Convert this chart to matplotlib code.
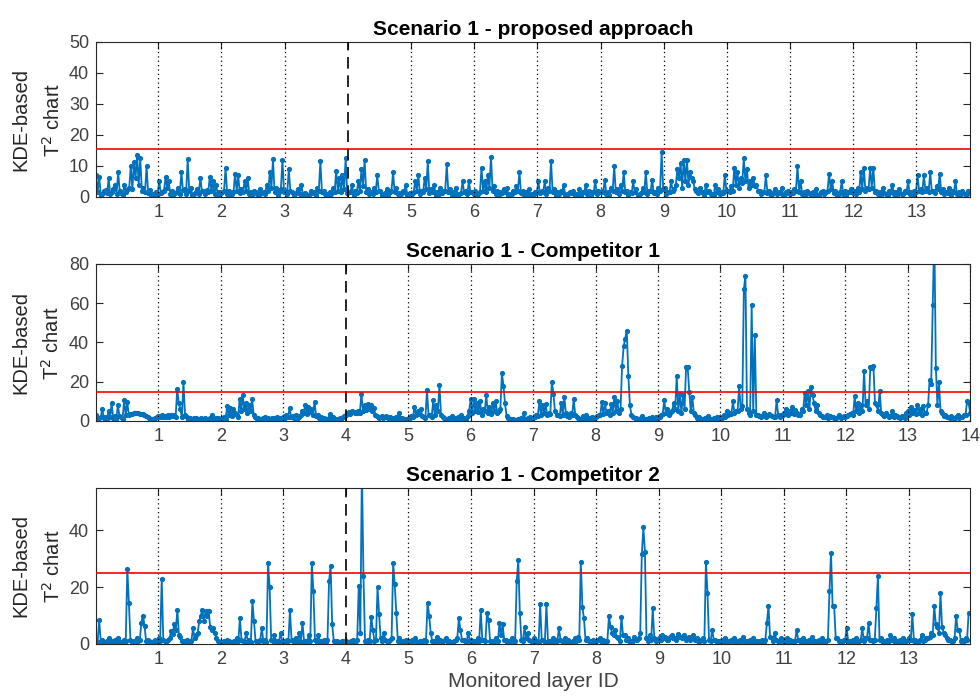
import matplotlib.pyplot as plt
import numpy as np

plt.rcParams["font.family"] = ["Liberation Sans", "DejaVu Sans"]

step = 0.05  # spacing between the main samples along the layer axis

# KDE-based T^2 statistic, proposed approach: samples on the main grid (one row per layer)
prop_t2 = [
    7.2, 6.5, 1.0, 2.1, 6.0, 1.5, 3.8, 8.0, 1.2, 4.0, 2.5, 10.0, 11.2, 13.5, 12.5, 3.0, 10.0, 2.2, 1.0, 1.5,
    5.0, 1.5, 6.5, 5.0, 2.0, 1.2, 3.0, 8.0, 2.5, 12.2, 3.0, 1.0, 2.5, 6.0, 1.8, 2.2, 6.5, 5.0, 4.0, 1.5,
    1.5, 9.5, 2.0, 1.0, 7.5, 7.0, 2.5, 5.0, 6.0, 1.5, 2.0, 1.0, 2.5, 1.5, 4.0, 8.0, 12.2, 3.0, 1.5, 12.0,
    2.0, 9.0, 1.5, 1.0, 2.5, 4.0, 1.2, 0.8, 2.0, 1.5, 3.0, 11.5, 2.0, 1.0, 1.5, 3.0, 8.5, 6.0, 7.0, 12.5,
    1.5, 4.0, 2.0, 5.0, 9.0, 12.0, 2.5, 1.5, 3.0, 7.0, 2.0, 1.0, 2.5, 1.5, 8.0, 3.0, 1.2, 2.0, 4.0, 1.0,
    1.0, 5.0, 7.0, 2.0, 6.0, 11.5, 2.5, 4.0, 1.5, 3.0, 2.0, 10.5, 2.5, 1.5, 3.0, 1.0, 5.0, 2.0, 5.0, 1.5,
    2.0, 1.0, 9.5, 5.0, 7.0, 13.0, 3.5, 2.0, 1.5, 2.5, 3.0, 1.0, 2.0, 3.5, 8.0, 2.0, 1.5, 2.5, 1.0, 1.5,
    5.0, 2.0, 5.0, 3.0, 11.5, 2.5, 1.5, 2.0, 4.0, 1.0, 1.5, 2.0, 1.0, 2.5, 1.5, 4.0, 2.0, 1.5, 5.0, 2.0,
    2.0, 5.5, 1.5, 3.0, 10.0, 2.5, 4.0, 8.0, 2.0, 1.5, 5.0, 2.5, 1.0, 3.0, 8.0, 2.0, 5.5, 1.5, 3.0, 14.5,
    3.0, 1.5, 5.0, 2.5, 9.0, 11.0, 12.0, 12.0, 8.0, 5.0, 2.0, 3.0, 1.5, 4.0, 2.0, 1.0, 4.0, 2.5, 1.5, 7.0,
    2.0, 3.5, 9.5, 8.0, 6.0, 12.5, 9.0, 5.0, 6.0, 4.0, 2.0, 1.5, 7.0, 2.0, 1.0, 2.5, 1.5, 3.0, 1.0, 2.0,
    1.5, 2.5, 10.0, 5.0, 1.5, 2.0, 1.0, 1.5, 2.5, 1.0, 2.0, 1.5, 7.5, 5.0, 2.0, 1.0, 5.0, 2.0, 1.5, 2.5,
    2.0, 3.0, 8.0, 9.5, 3.0, 9.5, 9.5, 2.0, 1.5, 3.0, 1.0, 2.0, 4.0, 1.5, 2.5, 1.0, 2.0, 5.0, 1.5, 2.0,
    7.0, 2.5, 7.0, 3.0, 8.0, 2.0, 3.5, 7.5, 2.5, 1.5, 3.0, 2.0, 5.0, 1.5, 2.0, 1.0, 2.0,
]
# samples halfway between the main ones
prop_t2_mid = [
    1.5, 0.8, 2.0, 1.2, 0.9, 2.5, 1.0, 1.8, 0.7, 1.5, 3.0, 2.5, 6.0, 4.0, 2.0, 1.5, 1.2, 0.8, 0.5, 1.0,
    1.2, 2.0, 3.0, 1.0, 0.8, 1.5, 1.0, 2.2, 1.0, 2.0, 0.6, 1.5, 1.0, 2.0, 0.9, 1.5, 2.0, 1.0, 0.8, 1.2,
    2.0, 1.0, 0.6, 1.5, 2.0, 1.2, 1.5, 2.0, 1.0, 0.8, 1.5, 0.7, 1.2, 0.9, 2.0, 3.0, 1.5, 0.8, 2.5, 1.5,
    1.0, 2.0, 0.8, 1.5, 1.0, 0.6, 1.0, 0.5, 1.2, 0.8, 2.0, 1.5, 0.9, 0.6, 1.0, 1.5, 2.0, 1.5, 2.5, 1.2,
    1.5, 0.8, 1.2, 2.0, 3.5, 1.5, 1.0, 0.9, 1.5, 2.0, 0.7, 1.2, 0.8, 2.0, 1.5, 0.9, 1.0, 1.5, 0.8, 1.2,
    1.5, 2.0, 1.0, 1.5, 2.5, 1.2, 1.5, 0.8, 1.0, 1.2, 2.0, 1.5, 0.8, 1.0, 0.7, 1.2, 1.5, 1.0, 1.5, 0.9,
    0.8, 1.5, 2.0, 1.5, 3.0, 2.0, 1.0, 0.7, 1.2, 1.5, 0.8, 1.0, 1.5, 2.0, 1.2, 0.8, 1.0, 0.6, 0.9, 1.5,
    1.2, 1.5, 1.0, 1.8, 1.5, 0.8, 1.0, 1.5, 0.7, 0.9, 1.2, 0.6, 1.0, 0.8, 1.5, 1.0, 0.7, 1.5, 1.0, 1.5,
    1.5, 1.0, 0.8, 2.0, 1.5, 1.0, 2.0, 1.5, 0.8, 1.2, 1.5, 0.8, 1.2, 1.5, 1.0, 1.8, 1.2, 0.9, 2.0, 2.5,
    1.0, 1.5, 2.0, 4.0, 6.0, 3.0, 5.0, 4.0, 6.0, 2.5, 1.2, 1.5, 0.8, 1.5, 1.0, 0.7, 1.5, 1.0, 1.2, 2.0,
    1.5, 2.0, 4.0, 3.0, 4.5, 5.0, 3.0, 4.0, 3.5, 2.0, 1.0, 1.5, 1.2, 0.8, 1.5, 1.0, 1.2, 0.8, 1.5, 1.0,
    1.2, 2.0, 1.5, 1.0, 0.7, 1.2, 0.8, 1.0, 0.6, 1.5, 0.9, 2.0, 2.5, 1.2, 0.8, 1.5, 1.0, 0.7, 1.5, 1.2,
    1.0, 1.5, 2.5, 2.0, 2.5, 3.0, 1.5, 1.0, 0.8, 1.2, 0.7, 1.5, 1.0, 0.8, 1.2, 0.9, 1.5, 1.0, 0.8, 1.5,
    2.0, 1.5, 2.0, 1.5, 2.0, 1.2, 2.5, 1.5, 1.0, 1.2, 0.8, 1.5, 1.0, 0.8, 1.2, 0.9,
]

# Competitor 1
comp1_t2 = [
    3.0, 1.5, 6.0, 2.0, 5.0, 9.0, 2.5, 8.0, 2.0, 10.5, 9.5, 3.5, 4.0, 4.0, 3.8, 3.5, 2.5, 1.5, 1.0, 1.5,
    2.5, 3.0, 2.5, 3.0, 2.8, 3.0, 16.5, 6.0, 20.0, 2.0, 1.5, 1.0, 1.5, 1.2, 1.0, 1.5, 1.2, 3.0, 1.0, 1.5,
    1.0, 2.0, 7.5, 6.5, 6.0, 3.0, 11.0, 13.0, 9.0, 8.0, 11.0, 2.0, 1.5, 1.0, 2.0, 1.5, 1.0, 1.5, 2.0, 1.5,
    2.0, 3.0, 6.5, 2.5, 3.0, 2.0, 5.0, 8.0, 7.0, 6.0, 9.5, 3.0, 2.0, 1.5, 1.0, 3.5, 2.0, 1.0, 1.5, 2.0,
    3.0, 4.5, 5.0, 4.0, 5.0, 14.0, 8.0, 8.5, 8.0, 6.5, 2.5, 2.0, 1.5, 2.5, 2.0, 1.0, 2.0, 4.0, 1.5, 1.0,
    1.0, 2.5, 7.0, 5.0, 6.0, 2.0, 16.0, 3.0, 10.5, 8.0, 18.5, 2.0, 1.0, 1.5, 2.5, 1.0, 2.0, 3.0, 1.5, 2.5,
    11.0, 11.0, 9.0, 10.0, 6.0, 13.0, 7.0, 9.0, 10.0, 5.0, 24.5, 9.0, 1.5, 1.0, 0.5, 1.0, 1.5, 4.0, 1.0, 2.0,
    1.5, 3.0, 10.0, 8.0, 8.5, 4.0, 20.0, 5.0, 3.0, 9.0, 12.0, 2.5, 4.0, 11.0, 2.0, 1.0, 2.5, 3.0, 1.5, 2.0,
    2.0, 3.0, 9.5, 9.0, 5.0, 8.5, 12.0, 10.0, 6.0, 38.0, 46.0, 8.0, 2.0, 1.5, 1.0, 2.5, 1.0, 1.5, 2.0, 1.0,
    1.5, 3.0, 10.5, 6.0, 4.0, 9.0, 23.0, 14.0, 13.0, 27.5, 15.0, 12.0, 3.0, 2.0, 1.0, 1.5, 2.5, 1.0, 1.5, 2.0,
    2.0, 3.0, 5.0, 4.0, 10.0, 5.0, 18.0, 7.5, 74.0, 4.0, 59.0, 44.0, 3.0, 2.0, 4.0, 2.5, 3.0, 2.0, 10.5, 2.0,
    3.0, 6.0, 5.0, 7.0, 5.5, 3.0, 6.0, 14.5, 15.5, 17.5, 9.0, 8.0, 3.0, 2.0, 3.0, 2.5, 2.0, 1.5, 3.0, 2.0,
    2.0, 3.0, 4.0, 12.5, 9.0, 8.0, 25.5, 10.0, 27.5, 28.0, 8.0, 15.5, 3.0, 4.0, 2.0, 5.0, 3.0, 2.0, 2.5, 1.5,
    5.0, 7.0, 5.5, 8.0, 6.0, 7.5, 4.0, 21.0, 59.0, 27.0, 20.0, 4.0, 3.0, 2.0, 2.5, 1.5, 3.0, 2.0, 3.0, 10.0,
    4.0,
]
comp1_t2_mid = [
    1.0, 2.0, 1.5, 1.0, 2.0, 1.5, 1.0, 2.5, 1.2, 3.0, 3.0, 3.8, 4.0, 3.9, 3.6, 3.0, 2.0, 1.2, 1.0, 2.0,
    2.0, 2.0, 2.2, 2.0, 2.5, 2.0, 9.0, 2.0, 3.0, 1.0, 1.2, 1.5, 1.0, 1.5, 1.2, 1.0, 1.5, 1.2, 1.5, 1.0,
    1.5, 1.0, 3.0, 2.5, 4.0, 2.0, 5.0, 6.0, 4.0, 5.0, 3.0, 1.0, 1.2, 1.5, 1.0, 1.2, 1.5, 1.0, 1.2, 1.0,
    1.5, 2.0, 2.0, 1.5, 1.0, 3.0, 4.0, 3.5, 4.5, 3.0, 2.5, 1.5, 1.0, 0.8, 1.5, 1.0, 0.8, 1.2, 1.0, 2.5,
    4.0, 3.5, 4.5, 4.0, 4.0, 5.0, 5.5, 6.0, 5.0, 3.0, 1.5, 2.5, 2.0, 1.5, 1.5, 1.5, 1.0, 1.5, 1.0, 0.8,
    1.5, 2.0, 3.0, 3.5, 2.5, 1.5, 3.0, 2.0, 3.0, 5.0, 3.0, 1.5, 1.2, 1.0, 1.5, 1.2, 1.0, 1.5, 1.0, 5.0,
    4.0, 5.0, 4.5, 3.0, 5.0, 4.0, 3.5, 5.0, 4.0, 6.0, 18.0, 2.5, 1.0, 0.8, 0.6, 0.8, 1.0, 1.2, 1.5, 1.0,
    2.0, 2.5, 3.0, 4.0, 3.0, 3.5, 14.0, 3.0, 2.5, 3.0, 4.0, 2.0, 3.0, 3.0, 1.5, 1.2, 1.5, 1.0, 1.2, 1.5,
    2.5, 3.0, 3.5, 4.0, 3.0, 4.0, 5.0, 4.0, 28.0, 42.0, 23.0, 3.0, 1.5, 1.2, 1.5, 1.0, 1.2, 1.0, 1.5, 2.0,
    2.0, 3.5, 4.0, 3.0, 5.0, 6.0, 5.0, 4.0, 6.0, 27.5, 5.0, 4.0, 1.5, 1.2, 1.0, 1.2, 1.0, 1.2, 1.0, 1.5,
    1.5, 2.0, 3.0, 3.5, 4.0, 5.0, 6.0, 67.0, 6.0, 3.0, 5.0, 3.0, 2.5, 3.0, 2.0, 3.5, 2.5, 2.0, 3.0, 3.0,
    4.0, 3.0, 4.0, 3.5, 4.0, 3.0, 5.0, 8.0, 6.0, 13.0, 5.0, 4.0, 2.5, 2.0, 1.5, 2.0, 1.5, 2.0, 1.5, 2.5,
    2.5, 3.5, 3.0, 5.0, 4.0, 5.0, 8.0, 6.0, 27.0, 9.0, 5.0, 4.0, 2.5, 3.0, 2.5, 2.0, 2.5, 1.5, 2.0, 4.0,
    3.0, 4.0, 3.5, 4.0, 3.0, 4.0, 8.0, 19.0, 96.0, 8.0, 5.0, 2.5, 2.0, 1.5, 1.5, 2.0, 1.5, 2.0, 3.0, 9.0,
]

# Competitor 2
comp2_t2 = [
    1.0, 8.5, 1.5, 0.8, 2.0, 1.0, 1.5, 2.0, 0.5, 1.5, 26.5, 1.5, 1.0, 2.0, 1.5, 10.0, 1.0, 1.0, 0.5, 1.5,
    2.0, 23.0, 1.0, 1.5, 4.5, 7.0, 12.0, 2.5, 1.0, 1.5, 0.8, 5.5, 3.0, 8.0, 12.0, 11.5, 11.5, 5.0, 4.0, 1.0,
    0.5, 1.0, 1.5, 0.8, 1.2, 2.0, 9.0, 1.0, 4.0, 1.5, 15.0, 1.0, 1.0, 5.5, 1.5, 28.5, 1.5, 3.0, 1.0, 4.0,
    1.0, 1.5, 12.0, 1.0, 2.0, 4.0, 7.5, 1.0, 3.0, 28.5, 1.5, 3.0, 1.0, 1.5, 1.5, 27.5, 1.0, 1.0, 0.5, 1.0,
    1.0, 0.5, 1.5, 1.0, 20.5, 62.0, 1.0, 1.5, 9.5, 1.0, 20.0, 2.0, 4.0, 1.0, 1.5, 28.5, 11.0, 2.0, 1.0, 1.5,
    1.0, 1.5, 2.0, 0.8, 1.0, 1.5, 14.5, 4.0, 1.0, 2.5, 1.5, 1.0, 2.0, 1.0, 0.5, 1.5, 9.0, 1.5, 1.0, 4.0,
    1.5, 1.0, 2.0, 12.0, 1.5, 11.0, 1.0, 1.0, 2.0, 7.5, 7.0, 1.5, 1.0, 2.0, 1.0, 29.5, 1.5, 6.0, 4.0, 1.0,
    2.0, 1.0, 14.0, 1.5, 14.0, 1.0, 2.0, 1.5, 5.5, 1.0, 2.0, 1.5, 0.8, 2.0, 2.5, 29.0, 9.0, 2.0, 1.0, 1.5,
    1.0, 2.0, 1.5, 1.0, 10.0, 4.0, 5.0, 2.0, 9.5, 3.0, 2.0, 1.0, 2.5, 1.5, 4.0, 41.0, 2.0, 3.0, 12.5, 1.0,
    2.0, 3.0, 2.5, 1.5, 3.0, 2.0, 3.5, 2.5, 3.0, 2.0, 1.5, 3.0, 2.0, 1.0, 2.0, 29.0, 1.5, 5.0, 1.5, 1.0,
    1.5, 2.0, 1.0, 1.5, 2.0, 1.0, 1.5, 2.5, 1.0, 1.5, 2.0, 1.0, 0.8, 1.5, 1.5, 13.5, 2.0, 4.0, 1.0, 2.0,
    1.0, 2.0, 1.5, 1.0, 5.0, 1.5, 2.0, 1.0, 1.5, 2.5, 1.0, 1.5, 2.0, 1.0, 1.5, 32.0, 13.5, 2.0, 1.0, 1.5,
    5.5, 1.0, 1.5, 2.0, 1.0, 5.5, 2.0, 7.5, 1.5, 1.5, 24.0, 2.0, 1.0, 1.5, 3.0, 2.0, 1.0, 1.5, 2.0, 1.0,
    2.0, 10.5, 1.5, 1.0, 3.0, 1.5, 2.0, 4.0, 13.5, 6.0, 18.0, 4.0, 2.0, 1.5, 1.0, 10.0, 5.0, 1.5, 2.0, 11.0,
]
comp2_t2_mid = [
    0.5, 1.2, 0.6, 1.0, 0.5, 0.8, 0.4, 1.0, 0.8, 1.2, 14.5, 0.8, 0.6, 1.0, 7.5, 6.5, 1.5, 0.6, 1.0, 0.8,
    1.0, 1.5, 0.6, 2.0, 3.5, 5.0, 3.0, 1.0, 0.8, 0.6, 1.2, 2.0, 4.0, 10.0, 8.0, 10.0, 6.0, 5.5, 2.0, 0.8,
    0.8, 0.5, 1.0, 0.6, 0.9, 1.2, 1.5, 0.8, 1.2, 0.7, 8.0, 0.8, 1.5, 1.0, 0.8, 20.0, 0.9, 1.2, 0.7, 1.0,
    0.6, 1.0, 1.5, 0.8, 1.0, 0.7, 1.2, 0.9, 1.0, 18.5, 0.8, 1.0, 0.6, 0.8, 22.0, 7.0, 0.6, 0.8, 0.9, 0.6,
    0.7, 1.0, 0.8, 1.5, 4.0, 24.0, 0.8, 1.2, 5.0, 1.5, 10.5, 1.0, 1.5, 0.6, 2.0, 21.0, 1.0, 0.8, 0.6, 1.0,
    0.8, 1.0, 0.6, 1.2, 0.9, 1.0, 10.0, 1.0, 0.8, 1.2, 0.7, 1.5, 0.8, 0.6, 1.0, 2.0, 5.0, 1.5, 1.0, 1.2,
    0.8, 1.2, 0.9, 1.5, 1.0, 8.5, 0.8, 1.2, 1.0, 3.0, 1.5, 0.8, 1.0, 0.7, 22.0, 11.0, 1.0, 2.0, 1.5, 0.8,
    1.0, 0.6, 1.5, 0.8, 1.0, 0.7, 1.2, 1.0, 1.5, 0.8, 1.0, 0.6, 1.2, 0.9, 1.5, 13.0, 1.5, 1.0, 0.8, 1.2,
    1.5, 1.0, 0.8, 1.2, 6.0, 3.0, 2.5, 1.0, 3.0, 1.5, 1.0, 0.8, 1.5, 2.0, 31.5, 32.5, 1.0, 1.5, 2.0, 1.5,
    1.5, 2.0, 1.5, 2.5, 2.0, 1.5, 2.5, 2.0, 1.5, 2.5, 2.0, 1.5, 1.0, 1.5, 1.0, 18.0, 1.0, 1.5, 0.8, 1.2,
    0.8, 1.2, 0.6, 1.0, 0.8, 1.2, 0.9, 1.0, 0.7, 1.2, 0.8, 1.0, 1.2, 0.8, 7.5, 2.5, 1.2, 1.5, 0.8, 1.0,
    0.8, 1.0, 0.7, 1.2, 1.5, 0.8, 1.0, 0.6, 1.2, 0.9, 0.7, 1.0, 0.8, 1.2, 18.5, 13.5, 2.0, 1.0, 0.8, 1.5,
    1.0, 0.8, 1.2, 0.7, 1.5, 1.0, 2.0, 1.5, 1.0, 12.5, 1.5, 0.8, 1.2, 1.0, 1.5, 0.8, 1.2, 0.7, 1.0, 1.5,
    1.5, 1.2, 0.8, 1.5, 1.0, 2.0, 2.5, 3.0, 7.0, 4.0, 6.0, 3.0, 1.5, 1.0, 2.0, 5.0, 1.2, 1.0, 1.5,
]

series = [(prop_t2, prop_t2_mid), (comp1_t2, comp1_t2_mid), (comp2_t2, comp2_t2_mid)]
titles = ["Scenario 1 - proposed approach", "Scenario 1 - Competitor 1", "Scenario 1 - Competitor 2"]
control_limits = [15.5, 15.0, 25.0]
x_starts = [0.017, 0.0, 0.005]
x_ends = [13.85, 14.0, 13.98]
y_tops = [50, 80, 55]
y_ticks = [[0, 10, 20, 30, 40, 50], [0, 20, 40, 60, 80], [0, 20, 40]]
last_layer = [13, 14, 13]
shift_layer = 4  # layer where the shift is introduced

blue = "#0072BD"
axis_col = "#262626"
tick_col = "#404040"

fig = plt.figure(figsize=(9.8, 7.0), dpi=100)
boxes = [[0.098, 0.7186, 0.892, 0.2214],
         [0.098, 0.3986, 0.892, 0.2243],
         [0.098, 0.0800, 0.892, 0.2233]]

for k in range(3):
    ax = fig.add_axes(boxes[k])
    main, mid = series[k]
    vals = np.empty(len(main) + len(mid))
    vals[0::2] = main
    vals[1::2] = mid
    xs = x_starts[k] + step / 2 * np.arange(len(vals))
    ax.plot(xs, vals, "-", color=blue, lw=1.3, marker=".", ms=5.5, zorder=2)

    for layer in range(1, last_layer[k] + 1):
        if layer == shift_layer:
            ax.axvline(layer, color="black", ls=(0, (7, 4)), lw=1.2, zorder=3)
        else:
            ax.axvline(layer, color="black", ls=(0, (1, 2.5)), lw=0.9, zorder=3)
    ax.axhline(control_limits[k], color="red", lw=1.2, zorder=4)

    ax.set_xlim(x_starts[k], x_ends[k])
    ax.set_ylim(0, y_tops[k])
    ax.set_xticks(range(1, last_layer[k] + 1))
    ax.set_yticks(y_ticks[k])
    ax.tick_params(direction="in", top=True, right=True, labelsize=13,
                   colors=axis_col, labelcolor=tick_col, length=5, width=0.8, pad=5)
    for s in ax.spines.values():
        s.set_color(axis_col)
        s.set_linewidth(0.8)
    ax.set_title(titles[k], fontsize=15, fontweight="bold", pad=5)
    ax.set_ylabel("KDE-based\nT$^2$ chart", fontsize=14.5, color=axis_col,
                  linespacing=1.6, labelpad=4)

fig.axes[-1].set_xlabel("Monitored layer ID", fontsize=15, color=tick_col, labelpad=3)

fig.savefig("out.png", dpi=100)
